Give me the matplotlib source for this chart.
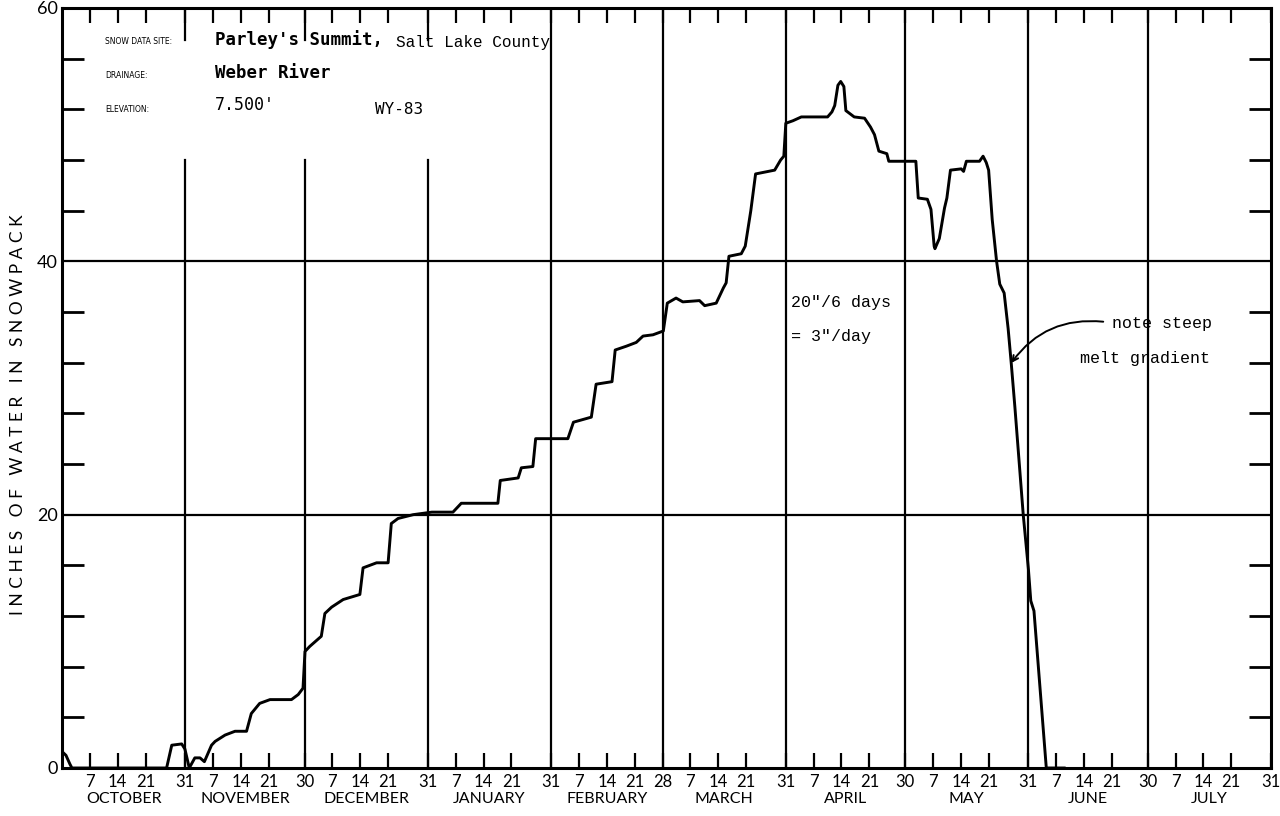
import numpy as np
import matplotlib
matplotlib.use('Agg')
import matplotlib.pyplot as plt

# water year 1983, days counted from Oct 1 (day 0) to Jul 31 (day 304)
month_names = ['OCTOBER', 'NOVEMBER', 'DECEMBER', 'JANUARY', 'FEBRUARY',
               'MARCH', 'APRIL', 'MAY', 'JUNE', 'JULY']
month_len = [31, 30, 31, 31, 28, 31, 30, 31, 30, 31]

# snow water equivalent trace
days = [0, 1, 2, 2.5, 26.3, 27.6, 30.1, 30.9, 32, 33.4, 34.7, 35.8, 37.6, 38.5,
        41, 43.5, 46.4, 47.6, 49.7, 52.3, 57.7, 59.4, 60.6, 61.1, 62.3, 65.2,
        66.1, 67.8, 70.7, 74.9, 75.7, 79.1, 82, 82.8, 84.5, 88.3, 93, 98.3,
        100.4, 109.6, 110.2, 114.7, 115.5, 118.4, 119.1, 127.2, 128.6, 133.1,
        134.3, 138.3, 139.1, 141.9, 144.4, 146.1, 148.6, 151.2, 152.2, 154.4,
        156.1, 160.3, 161.6, 164.5, 166.3, 167, 167.7, 170.8, 171.8, 173.2,
        174.4, 179.2, 180.7, 181.5, 182, 183.8, 185.9, 192.5, 193.6, 194.3,
        195.1, 195.8, 196.6, 197.1, 199.2, 201.8, 203.3, 204.3, 205.4, 207.4,
        207.9, 214.7, 215.3, 217.6, 218.5, 219.3, 219.5, 220.6, 221.9, 222.5,
        223.4, 226.1, 226.7, 227.4, 230.7, 231.6, 232.4, 233, 233.9, 235,
        235.8, 236.9, 237.9, 238.7, 239.6, 241.7, 243, 243.6, 244.4, 247.5, 252]
swe = [1.3, 1.0, 0.3, 0, 0, 1.8, 1.9, 1.5, 0, 0.8, 0.8, 0.5, 1.8, 2.1,
       2.6, 2.9, 2.9, 4.3, 5.1, 5.4, 5.4, 5.8, 6.3, 9.2, 9.6, 10.4,
       12.2, 12.7, 13.3, 13.7, 15.8, 16.2, 16.2, 19.3, 19.7, 20.0, 20.2, 20.2,
       20.9, 20.9, 22.7, 22.9, 23.7, 23.8, 26.0, 26.0, 27.3, 27.7,
       30.3, 30.5, 33.0, 33.3, 33.6, 34.1, 34.2, 34.5, 36.7, 37.1,
       36.8, 36.9, 36.5, 36.7, 37.9, 38.3, 40.4, 40.6, 41.2, 44.0,
       46.9, 47.2, 48.0, 48.3, 50.9, 51.1, 51.4, 51.4, 51.8, 52.3,
       53.9, 54.2, 53.8, 51.9, 51.4, 51.3, 50.6, 50.0, 48.7, 48.5,
       47.9, 47.9, 45.0, 44.9, 44.1, 41.2, 41.0, 41.8, 44.2, 45.0,
       47.2, 47.3, 47.1, 47.9, 47.9, 48.3, 47.8, 47.2, 43.3, 40.0,
       38.2, 37.5, 34.7, 31.9, 28.5, 20.0, 15.7, 13.2, 12.4, 0, 0]

month_end = np.cumsum(month_len)
month_start = month_end - np.array(month_len)

fig = plt.figure(figsize=(12.8, 8.16), dpi=100)
ax = fig.add_axes([62 / 1280, 48 / 816, 1209 / 1280, 760 / 816])
ax.set_xlim(0, 304)
ax.set_ylim(0, 60)

# grid: month boundaries and 20/40 lines
for i, e in enumerate(month_end[:-1]):
    if i < 3:
        ax.plot([e, e], [0, 48], color='black', lw=1.6, zorder=2)
        ax.plot([e, e], [57.5, 60], color='black', lw=1.6, zorder=2)
    else:
        ax.plot([e, e], [0, 60], color='black', lw=1.6, zorder=2)
for yv in [20, 40]:
    ax.axhline(yv, color='black', lw=1.6, zorder=2)

ax.plot(days, swe, color='black', lw=2.1, zorder=3)

# x ticks: 7, 14, 21 of each month plus month-end day
tick_pos, tick_lab = [], []
for s, n in zip(month_start, month_len):
    for d in [7, 14, 21]:
        tick_pos.append(s + d)
        tick_lab.append(str(d))
    tick_pos.append(s + n)
    tick_lab.append(str(n))
ax.set_xticks(tick_pos)
ax.set_xticklabels(tick_lab, fontsize=12, family='Lato')
ax.tick_params(axis='x', direction='in', length=11, width=1.6, top=True,
               pad=4)

for s, n, name in zip(month_start, month_len, month_names):
    ax.text(s + n / 2, -0.032, name, transform=ax.get_xaxis_transform(),
            ha='center', va='top', fontsize=11.5, family='Lato')

ax.set_yticks([0, 20, 40, 60])
ax.set_yticklabels(['0', '20', '40', '60'], fontsize=13, family='Lato')
ax.set_yticks([v for v in range(4, 60, 4) if v % 20 != 0], minor=True)
ax.tick_params(axis='y', which='major', direction='in', length=0, pad=3)
ax.tick_params(axis='y', which='minor', direction='in', length=16, width=2,
               left=True, right=True)

for sp in ax.spines.values():
    sp.set_linewidth(2.2)

ylab = '   '.join(' '.join(w) for w in 'INCHES OF WATER IN SNOWPACK'.split())
ax.set_ylabel(ylab, fontsize=12.5, family='Lato', va='center')
ax.yaxis.set_label_coords(-0.0364, 0.465)

# header block
def fx(px):
    return px / 1280

def fy(py):
    return 1 - py / 816

small = dict(fontsize=5.5, family='DejaVu Sans', va='center', ha='left')
fig.text(fx(105), fy(42), 'SNOW DATA SITE:', **small)
fig.text(fx(105), fy(76), 'DRAINAGE:', **small)
fig.text(fx(105), fy(110), 'ELEVATION:', **small)
bold = dict(fontsize=12.5, family='DejaVu Sans Mono', weight='bold',
            va='center', ha='left')
fig.text(fx(215), fy(40), "Parley's Summit,", **bold)
fig.text(fx(215), fy(73), 'Weber River', **bold)
fig.text(fx(215), fy(105), "7.500'", fontsize=12, family='DejaVu Sans Mono',
         va='center', ha='left')
fig.text(fx(375), fy(109), 'WY-83', fontsize=11.5, family='DejaVu Sans Mono',
         va='center', ha='left')
fig.text(fx(396), fy(43), 'Salt Lake County', fontsize=11.5,
         family='Liberation Mono', va='center', ha='left')

# annotations
mono = dict(fontsize=12, family='Liberation Mono', va='center', ha='left')
fig.text(fx(791), fy(302), '20"/6 days', **mono)
fig.text(fx(791), fy(337), '= 3"/day', **mono)
fig.text(fx(1112), fy(324), 'note steep', **mono)
fig.text(fx(1080), fy(359), 'melt gradient', **mono)
ax.annotate('', xy=(238.3, 31.8), xycoords='data',
            xytext=(fx(1106), fy(322)), textcoords='figure fraction',
            arrowprops=dict(arrowstyle='->', color='black', lw=1.4,
                            connectionstyle='arc3,rad=0.3'))

fig.savefig('out.png', dpi=100)
